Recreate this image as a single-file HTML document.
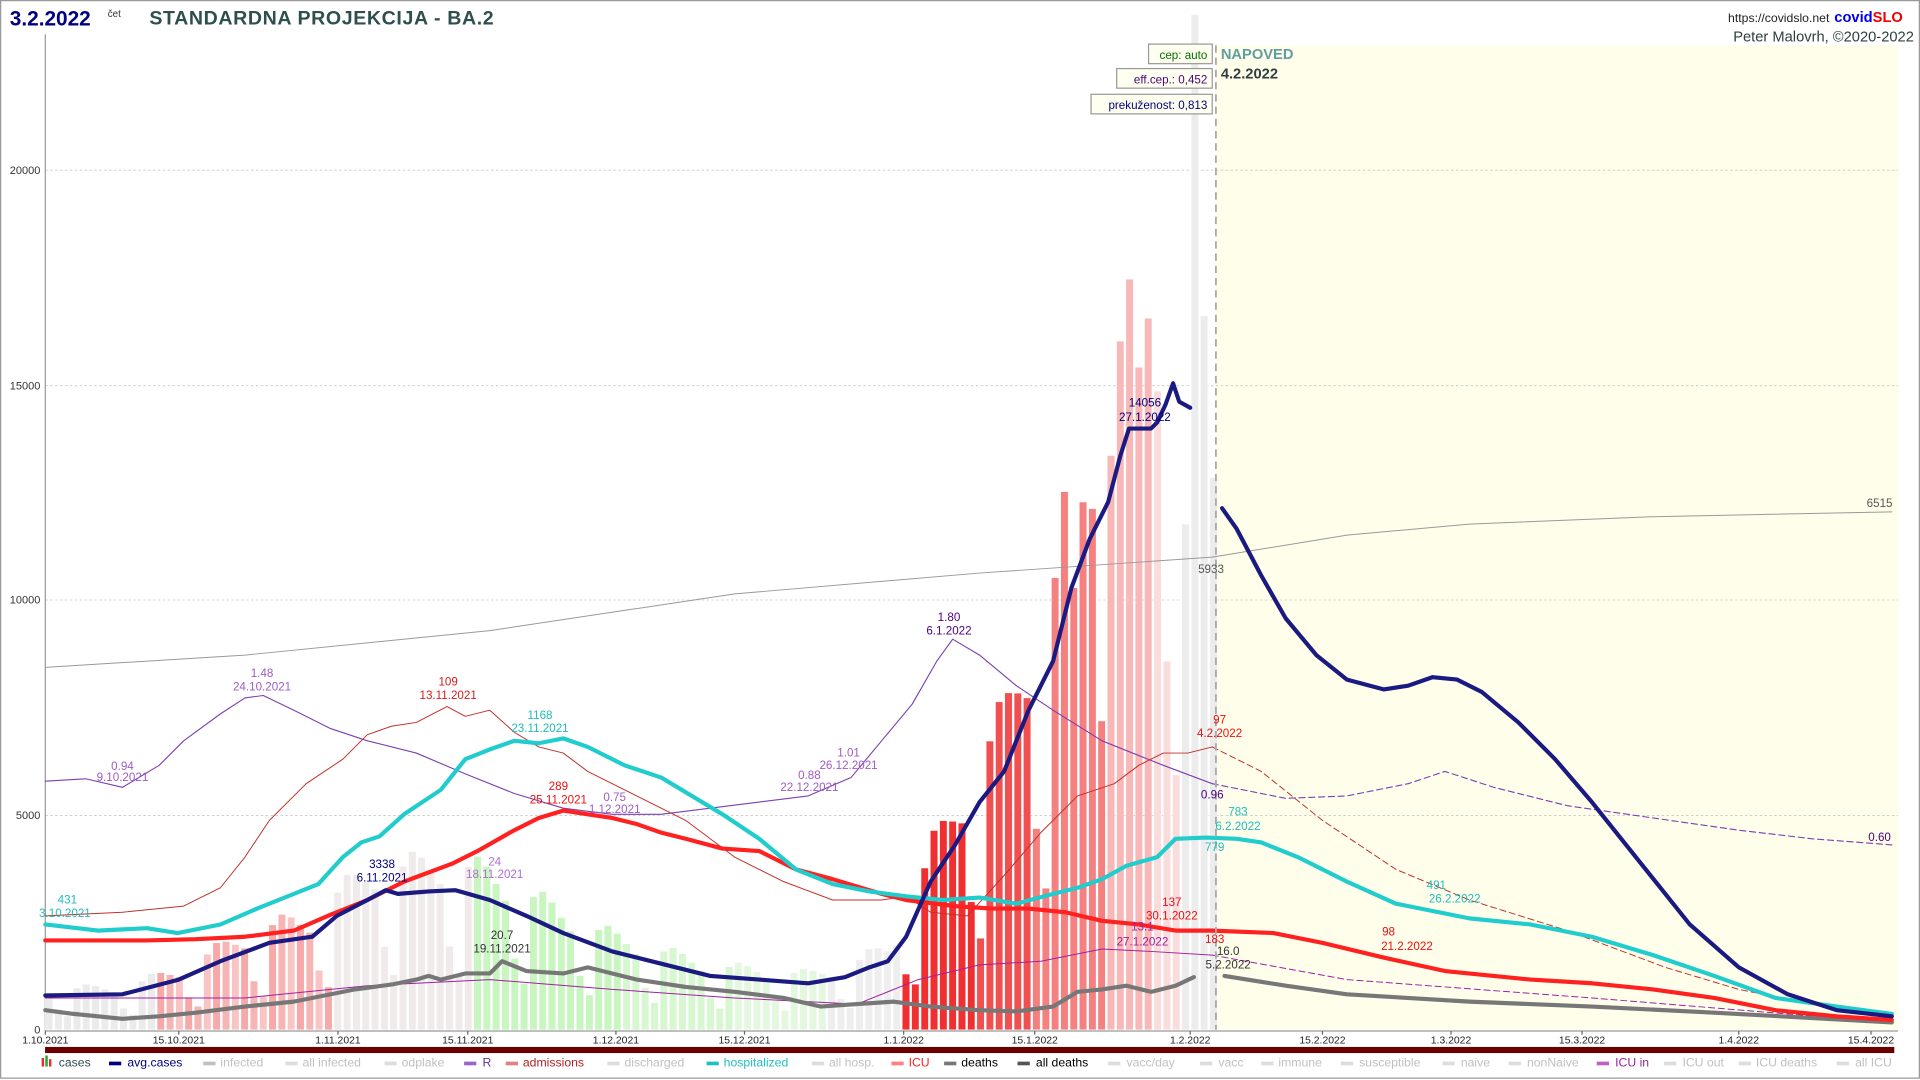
<!DOCTYPE html>
<html><head><meta charset="utf-8"><style>
html,body{margin:0;padding:0;background:#fff;width:1920px;height:1080px;overflow:hidden}
svg{display:block}
text{font-family:"Liberation Sans",sans-serif}
</style></head><body>
<svg id="s" width="1920" height="1080" viewBox="0 0 1568 882" xmlns="http://www.w3.org/2000/svg">
<rect x="0.5" y="0.5" width="1567" height="880" fill="#fff" stroke="#999" stroke-width="1"/>
<rect x="993" y="37" width="557" height="804" fill="#fefeeb"/>
<g id="grid" stroke="#c8c8c8" stroke-width="0.7" stroke-dasharray="2,2">
<line x1="37" y1="139" x2="1550" y2="139"/><line x1="37" y1="315" x2="1550" y2="315"/>
<line x1="37" y1="490" x2="1550" y2="490"/><line x1="37" y1="666" x2="1550" y2="666"/>
</g>
<g font-size="9" fill="#333" text-anchor="end">
<text x="33" y="142">20000</text><text x="33" y="318">15000</text><text x="33" y="493">10000</text><text x="33" y="669">5000</text><text x="33" y="844">0</text>
</g>
<line x1="37" y1="28" x2="37" y2="842" stroke="#999" stroke-width="1"/>
<g id="bars"></g>
<g id="lines"></g>
<line x1="993" y1="37" x2="993" y2="841" stroke="#aaa" stroke-width="1.5" stroke-dasharray="6,4"/>
<line x1="37" y1="842" x2="1550" y2="842" stroke="#999" stroke-width="1"/>
<g id="ticks"></g>
<rect x="37" y="855" width="1510" height="5" fill="#6b0000"/>
<g id="ann"></g>
<text x="8" y="21" font-size="17" font-weight="bold" fill="#000080">3.2.2022</text>
<text x="88" y="14" font-size="8" fill="#333">čet</text>
<text x="122" y="20" font-size="16" font-weight="bold" fill="#2f4f4f" letter-spacing="0.5">STANDARDNA PROJEKCIJA - BA.2</text>
<text x="1494" y="18" font-size="10" fill="#222" text-anchor="end">https://covidslo.net</text>
<text x="1498" y="18" font-size="12" font-weight="bold" fill="#0000ee">covid<tspan fill="#ee0000">SLO</tspan></text>
<text x="1563" y="34" font-size="12" fill="#2f3f3f" text-anchor="end">Peter Malovrh, ©2020-2022</text>
<g font-size="9.5">
<rect x="938" y="36" width="52" height="16" fill="#fffff0" stroke="#999"/><text x="986" y="48" fill="#007000" text-anchor="end">cep: auto</text>
<rect x="912" y="56" width="78" height="16" fill="#fffff0" stroke="#999"/><text x="986" y="68" fill="#4b0082" text-anchor="end">eff.cep.: 0,452</text>
<rect x="891" y="77" width="99" height="16" fill="#fffff0" stroke="#999"/><text x="986" y="89" fill="#000080" text-anchor="end">prekuženost: 0,813</text>
</g>
<text x="997" y="48" font-size="12" font-weight="bold" fill="#5f9ea0">NAPOVED</text>
<text x="997" y="64" font-size="12" font-weight="bold" fill="#2f3f3f">4.2.2022</text>
<g id="leg" font-size="10"></g>
</svg>
<script>
const NS="http://www.w3.org/2000/svg";
function el(p,t,a,txt){const e=document.createElementNS(NS,t);for(const k in a)e.setAttribute(k,a[k]);if(txt!==undefined)e.textContent=txt;document.getElementById(p).appendChild(e);return e;}
const DX=7.608;
const avg=[[37,813],[100,812],[146,800],[180,785],[220,770],[255,765],[275,748],[300,735],[315,727],[325,730],[350,728],[372,727],[400,735],[430,748],[460,762],[500,777],[540,787],[580,797],[620,800],[660,803],[690,798],[710,790],[725,785],[740,765],[760,720],[780,690],[800,655],[820,630],[840,580],[860,540],[875,480],[890,440],[905,410],[915,372],[922,350],[940,350],[945,345],[952,330],[958,313],[963,328],[972,333]];
const avgF=[[998,415],[1010,432],[1030,470],[1050,505],[1075,535],[1100,555],[1130,563],[1150,560],[1170,553],[1190,555],[1210,565],[1240,590],[1270,620],[1300,655],[1340,705],[1380,755],[1420,790],[1460,812],[1500,825],[1545,830]];
function interp(P,x){if(x<=P[0][0])return P[0][1];for(let i=1;i<P.length;i++){if(x<=P[i][0]){const t=(x-P[i-1][0])/(P[i][0]-P[i-1][0]);return P[i-1][1]+t*(P[i][1]-P[i-1][1]);}}return P[P.length-1][1];}
const wk=[1.05,0.6,0.4,1.2,1.3,1.25,1.15];
const over={116:[919,228],117:[927,300],118:[935,260],114:[905,372],111:[866,410],110:[858,480],123:[972,12],124:[983,258],122:[964,428],125:[990,390],120:[950,540]};
for(let d=0;d<=125;d++){
 const x=37+d*DX; let ya=interp(avg,x+3); let h=(841-ya)*wk[d%7]; let top=841-h;
 if(over[d]) top=over[d][1];
 let c;
 if(d<12)c="#ebebeb";else if(d<31)c=["#f7a8a8","#f5b5b5","#f8c4c4"][d%3];else if(d<46)c="#f0eaea";
 else if(d<84){c=d<62?"#c8f5c0":(d<74?"#d6f7d0":"#e4f8e0");}else if(d<92)c="#eeeeee";
 else if(d<106)c=d<100?"#f03030":"#f05050";else if(d<114)c="#f48080";else if(d<119)c="#f8b8b8";else if(d<122)c="#fadcdc";else c="#ececec";
 el("bars","rect",{x:x.toFixed(1),y:top.toFixed(1),width:6,height:(841-top).toFixed(1),fill:c,stroke:"#fff","stroke-width":0.3});
}
function pl(P,col,w,dash,op){const a={points:P.map(p=>p.join(",")).join(" "),fill:"none",stroke:col,"stroke-width":w,"stroke-linejoin":"round","stroke-linecap":"round"};if(dash)a["stroke-dasharray"]=dash;if(op)a.opacity=op;el("lines","polyline",a);}
pl([[37,545],[200,535],[400,515],[600,485],[800,468],[990,455],[1100,437],[1200,428],[1350,422],[1545,418]],"#999",0.8);
pl([[37,638],[70,636],[100,643],[130,625],[150,605],[180,583],[200,570],[215,568],[240,580],[270,595],[300,605],[340,615],[380,632],[420,648],[460,660],[500,665],[540,665],[580,660],[620,655],[660,650],[695,635],[720,605],[745,575],[765,540],[778,522],[800,535],[830,560],[860,580],[900,605],[950,625],[990,640]],"#7b3fb0",0.9);
pl([[990,640],[1050,652],[1100,650],[1150,640],[1180,630],[1220,643],[1280,658],[1350,668],[1420,678],[1480,685],[1545,690]],"#7b3fb0",0.9,"5,3");
pl([[37,748],[100,745],[150,740],[180,725],[200,700],[220,670],[250,640],[280,620],[300,600],[320,593],[340,590],[365,577],[380,585],[400,580],[420,598],[440,610],[460,615],[480,630],[500,640],[530,655],[560,670],[600,700],[640,720],[680,735],[720,735],[740,732],[760,745],[790,748],[820,715],[850,680],[880,650],[910,640],[930,625],[950,615],[970,615],[990,610]],"#c0302a",0.8);
pl([[990,610],[1030,630],[1080,670],[1140,710],[1200,735],[1280,760],[1360,790],[1420,808],[1480,820],[1545,830]],"#c0302a",0.8,"5,3");
pl([[37,815],[200,815],[300,805],[400,800],[500,808],[600,815],[700,820],[750,800],[800,788],[850,785],[900,775],[940,777],[990,780]],"#a020a0",0.8);
pl([[990,780],[1100,800],[1300,815],[1545,835]],"#a020a0",0.8,"5,3");
const dth=[[37,825],[60,828],[100,832],[130,830],[160,827],[200,822],[240,818],[290,808],[320,804],[340,800],[350,797],[360,800],[380,795],[400,795],[410,785],[430,793],[460,795],[480,790],[500,795],[520,800],[560,806],[600,810],[640,815],[670,822],[700,820],[730,818],[760,822],[800,825],[830,826],[860,822],[880,810],[900,808],[920,805],[940,810],[960,805],[975,798]];
const dthF=[[1000,797],[1050,805],[1100,812],[1200,818],[1300,822],[1400,827],[1545,835]];
pl(dth,"#777",3.4);pl(dthF,"#777",3.4);
const icu=[[37,768],[80,768],[120,768],[160,767],[200,765],[240,760],[270,747],[300,735],[330,720],[370,705],[390,695],[420,678],[440,668],[460,662],[480,665],[500,668],[520,673],[540,680],[560,685],[590,693],[620,695],[650,710],[680,718],[720,730],[740,735],[780,740],[810,742],[840,742],[870,745],[900,752],[930,755],[960,760],[990,760],[1040,762],[1080,770],[1130,782],[1180,793],[1250,800],[1300,803],[1350,808],[1400,815],[1450,825],[1500,830],[1545,833]];
pl(icu,"#ff2020",3.4);
const hos=[[37,755],[80,760],[120,758],[145,762],[180,755],[210,742],[240,730],[260,722],[280,700],[295,688],[310,683],[330,665],[360,645],[380,620],[400,612],[420,605],[440,607],[460,603],[480,610],[510,625],[540,635],[565,650],[590,665],[620,685],[650,710],[680,722],[710,728],[740,732],[770,735],[800,733],[830,738],[860,730],[880,725],[900,718],[920,707],[945,700],[960,685],[985,684],[1010,685],[1030,688],[1060,700],[1100,720],[1140,738],[1170,744],[1200,750],[1250,755],[1300,765],[1350,780],[1400,797],[1450,815],[1500,822],[1545,828]];
pl(hos,"#20cccc",3.4);
pl(avg,"#1a1a80",3.4);pl(avgF,"#1a1a80",3.4);
const dates=[[37,"1.10.2021"],[146,"15.10.2021"],[276,"1.11.2021"],[382,"15.11.2021"],[503,"1.12.2021"],[608,"15.12.2021"],[738,"1.1.2022"],[845,"15.1.2022"],[972,"1.2.2022"],[1080,"15.2.2022"],[1185,"1.3.2022"],[1292,"15.3.2022"],[1420,"1.4.2022"],[1528,"15.4.2022"]];
dates.forEach(d=>{el("ticks","line",{x1:d[0],y1:842,x2:d[0],y2:845,stroke:"#666"});el("ticks","text",{x:d[0],y:852,"font-size":8.5,"text-anchor":"middle",fill:"#222"},d[1]);});
for(let x=37;x<1547;x+=7.608)el("ticks","line",{x1:x,y1:855,x2:x,y2:860,stroke:"#8a1010","stroke-width":0.4});
const A=[[55,738,"431","#20bcbc"],[53,749,"3.10.2021","#20bcbc"],[214,553,"1.48","#a05cc0"],[214,564,"24.10.2021","#a05cc0"],[100,629,"0.94","#a05cc0"],[100,638,"9.10.2021","#a05cc0"],
[366,560,"109","#d02020"],[366,571,"13.11.2021","#d02020"],[441,587,"1168","#20bcbc"],[441,598,"23.11.2021","#20bcbc"],[456,645,"289","#ee1010"],[456,656,"25.11.2021","#ee1010"],
[502,654,"0.75","#a05cc0"],[502,664,"1.12.2021","#a05cc0"],[661,636,"0.88","#a05cc0"],[661,646,"22.12.2021","#a05cc0"],[693,618,"1.01","#a05cc0"],[693,628,"26.12.2021","#a05cc0"],
[775,507,"1.80","#4b0082"],[775,518,"6.1.2022","#4b0082"],[312,709,"3338","#000080"],[312,720,"6.11.2021","#000080"],[404,707,"24","#b070d0"],[404,717,"18.11.2021","#b070d0"],
[410,767,"20.7","#333"],[410,778,"19.11.2021","#333"],[935,332,"14056","#000080"],[935,344,"27.1.2022","#000080"],[957,740,"137","#ee1010"],[957,751,"30.1.2022","#ee1010"],
[933,760,"13.1","#a020a0"],[933,772,"27.1.2022","#a020a0"],[996,591,"97","#ee1010"],[996,602,"4.2.2022","#ee1010"],[990,652,"0.96","#4b0082"],[1011,666,"783","#20bcbc"],[1011,678,"6.2.2022","#20bcbc"],
[992,695,"779","#20bcbc"],[989,468,"5933","#555"],[1535,414,"6515","#555"],[1003,780,"16.0","#333"],[1003,791,"5.2.2022","#333"],[992,770,"183","#ee1010"],
[1173,726,"491","#20bcbc"],[1188,737,"26.2.2022","#20bcbc"],[1134,764,"98","#ee1010"],[1149,776,"21.2.2022","#ee1010"],[1535,687,"0.60","#4b0082"]];
A.forEach(a=>el("ann","text",{x:a[0],y:a[1],"font-size":9.5,"text-anchor":"middle",fill:a[3]},a[2]));
const L=[[35,48,"cases","#2f4f4f","bar"],[90,104,"avg.cases","#000080","#000080"],[167,180,"infected","#c0c0c0","#c0c0c0"],[234,247,"all infected","#c0c0c0","#ddd"],[315,328,"odplake","#c0c0c0","#ddd"],[380,394,"R","#663399","#9966cc"],
[414,427,"admissions","#b22222","#e08080"],[497,510,"discharged","#c0c0c0","#ddd"],[578,591,"hospitalized","#20c0c0","#20c0c0"],[664,677,"all hosp.","#c0c0c0","#ddd"],[729,742,"ICU","#ff2020","#ff8080"],
[772,785,"deaths","#000","#777"],[832,846,"all deaths","#000","#555"],[906,920,"vacc/day","#c0c0c0","#ddd"],[981,995,"vacc","#c0c0c0","#ddd"],[1031,1044,"immune","#c0c0c0","#ddd"],[1096,1110,"susceptible","#c0c0c0","#ddd"],
[1179,1193,"naive","#c0c0c0","#ddd"],[1233,1247,"nonNaive","#c0c0c0","#ddd"],[1305,1319,"ICU in","#a020a0","#c060c0"],[1360,1374,"ICU out","#c0c0c0","#ddd"],[1421,1434,"ICU deaths","#c0c0c0","#ddd"],[1501,1515,"all ICU","#c0c0c0","#ddd"]];
L.forEach(l=>{
 if(l[4]==="bar"){el("leg","rect",{x:l[0]-1,y:864,width:2,height:7,fill:"#e03030"});el("leg","rect",{x:l[0]+2,y:862,width:2,height:9,fill:"#30a030"});el("leg","rect",{x:l[0]+5,y:865,width:2,height:6,fill:"#e03030"});}
 else el("leg","rect",{x:l[0]-1,y:867,width:10,height:3,fill:l[4]});
 el("leg","text",{x:l[1],y:871,fill:l[3]},l[2]);
});
</script>
</body></html>
